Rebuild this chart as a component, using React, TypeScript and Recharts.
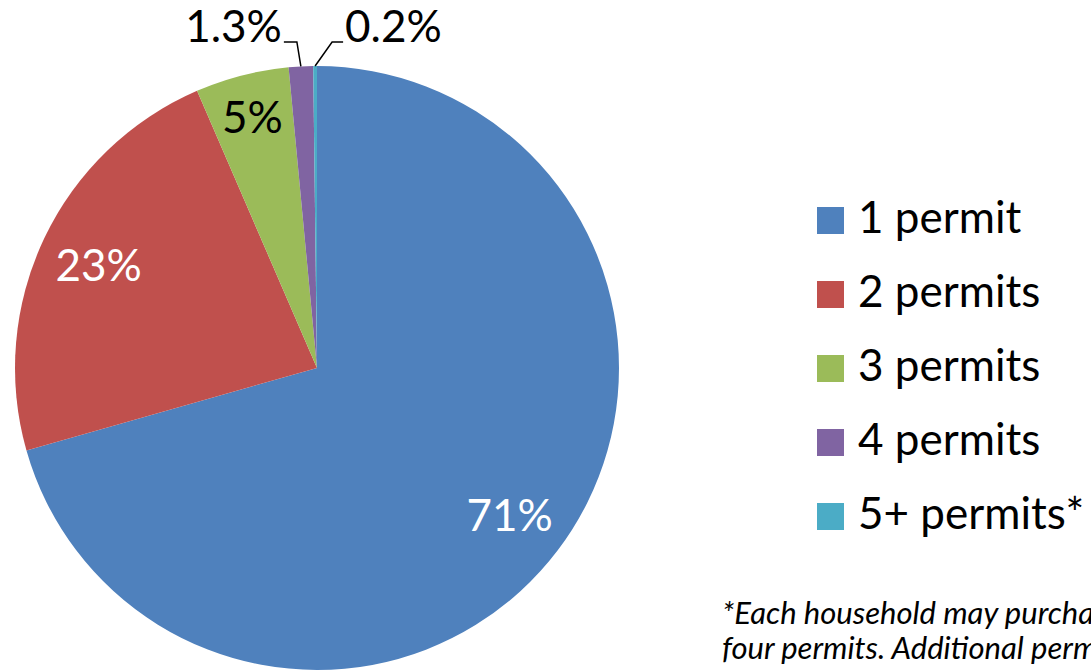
import React from 'react';
import { PieChart, Pie, Cell, Legend } from 'recharts';

const categories = ['1 permit', '2 permits', '3 permits', '4 permits', '5+ permits*'];
const shares = [70.6, 22.9, 5.0, 1.3, 0.2];
const percentLabels = ['71%', '23%', '5%', '1.3%', '0.2%'];
const colors = ['#4F81BD', '#C0504D', '#9BBB59', '#8064A2', '#4BACC6'];
const footnoteLines = [
  '*Each household may purchase up to',
  'four permits. Additional permits may be purchased',
];

const data = categories.map((name, i) => ({ name, value: shares[i] }));

const FONT = 'Lato, Carlito, Calibri, sans-serif';
const RADIAN = Math.PI / 180;

const renderLabel = (props: any) => {
  const { cx, cy, midAngle, outerRadius, index } = props;
  const cos = Math.cos(-midAngle * RADIAN);
  const sin = Math.sin(-midAngle * RADIAN);
  if (index <= 2) {
    const r = outerRadius * (index === 2 ? 0.86 : 0.8);
    const x = cx + r * cos;
    const y = cy + r * sin;
    return (
      <text
        key={`l${index}`}
        x={x}
        y={y}
        fill={index === 2 ? '#000' : '#fff'}
        textAnchor="middle"
        dominantBaseline="central"
        fontFamily={FONT}
        fontSize={44}
      >
        {percentLabels[index]}
      </text>
    );
  }
  const ex = cx + outerRadius * cos;
  const ey = cy + outerRadius * sin;
  const ly = cy - outerRadius - 24;
  const left = index === 3;
  const pts = left
    ? `${ex},${ey} ${ex - 4},${ly} ${ex - 17},${ly}`
    : `${ex},${ey} ${ex + 17},${ly} ${ex + 28},${ly}`;
  return (
    <g key={`l${index}`}>
      <polyline points={pts} fill="none" stroke="#000" strokeWidth={1.5} />
      <text
        x={left ? ex - 19 : ex + 30}
        y={ly}
        fill="#000"
        textAnchor={left ? 'end' : 'start'}
        fontFamily={FONT}
        fontSize={44}
      >
        {percentLabels[index]}
      </text>
    </g>
  );
};

const renderLegend = () => (
  <svg width={282} height={5 * 74} style={{ overflow: 'visible' }}>
    {categories.map((c, i) => (
      <g key={c}>
        <rect x={0} y={i * 74} width={27} height={27} fill={colors[i]} />
        <text x={41} y={i * 74 + 26} fontFamily={FONT} fontSize={44} fill="#000">
          {c}
        </text>
      </g>
    ))}
  </svg>
);

export default function App() {
  return (
    <div style={{ position: 'absolute', left: 0, top: 0, width: 1091, height: 671, overflow: 'hidden' }}>
      <PieChart width={1091} height={671}>
        <Pie
          data={data}
          dataKey="value"
          nameKey="name"
          cx={312}
          cy={363}
          outerRadius={302}
          startAngle={90}
          endAngle={-270}
          stroke="none"
          label={renderLabel}
          labelLine={false}
          isAnimationActive={false}
        >
          {data.map((d, i) => (
            <Cell key={d.name} fill={colors[i]} />
          ))}
        </Pie>
        <Legend
          content={renderLegend}
          layout="vertical"
          verticalAlign="top"
          align="right"
          wrapperStyle={{ left: 817, top: 207, width: 274 }}
        />
      </PieChart>
      <div
        style={{
          position: 'absolute',
          left: 722,
          top: 595,
          fontFamily: FONT,
          fontStyle: 'italic',
          fontSize: 31,
          lineHeight: '35px',
          whiteSpace: 'nowrap',
          color: '#000',
        }}
      >
        {footnoteLines.map((l) => (
          <div key={l}>{l}</div>
        ))}
      </div>
    </div>
  );
}
